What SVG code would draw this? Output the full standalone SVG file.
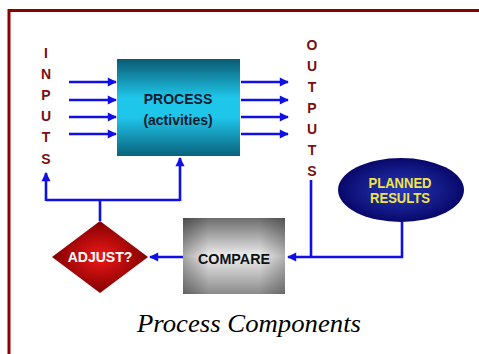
<svg xmlns="http://www.w3.org/2000/svg" width="479" height="354" viewBox="0 0 479 354">
<defs>
<linearGradient id="gProc" x1="0" y1="0" x2="0" y2="1">
<stop offset="0" stop-color="#0a5a72"/>
<stop offset="0.4" stop-color="#1ec6ea"/>
<stop offset="0.6" stop-color="#1ec6ea"/>
<stop offset="1" stop-color="#0a627c"/>
</linearGradient>
<linearGradient id="gCmp" x1="0" y1="0" x2="0" y2="1">
<stop offset="0" stop-color="#6c6c6c"/>
<stop offset="0.5" stop-color="#eeeeee"/>
<stop offset="1" stop-color="#8a8a8a"/>
</linearGradient>
<linearGradient id="gCmpH" x1="0" y1="0" x2="1" y2="0">
<stop offset="0" stop-color="#000000" stop-opacity="0.3"/>
<stop offset="0.25" stop-color="#000000" stop-opacity="0"/>
<stop offset="0.75" stop-color="#000000" stop-opacity="0"/>
<stop offset="1" stop-color="#000000" stop-opacity="0.25"/>
</linearGradient>
<radialGradient id="gAdj" cx="0.5" cy="0.5" r="0.5">
<stop offset="0" stop-color="#f01818"/>
<stop offset="1" stop-color="#820000"/>
</radialGradient>
<radialGradient id="gPlan" cx="0.5" cy="0.5" r="0.5">
<stop offset="0" stop-color="#2838b8"/>
<stop offset="1" stop-color="#08086a"/>
</radialGradient>
<marker id="ah" viewBox="0 0 10 10" refX="9" refY="5" markerWidth="4.2" markerHeight="3.5" markerUnits="strokeWidth" orient="auto">
<path d="M0,0 L10,5 L0,10 z" fill="#1010e6"/>
</marker>
</defs>
<style>
.ln{fill:none;stroke:#1010e6;stroke-width:2.6}
.arr{fill:none;stroke:#1010e6;stroke-width:2.6;marker-end:url(#ah)}
.vert{font-family:"Liberation Sans",Arial,sans-serif;font-weight:bold;font-size:14px;fill:#7a1010;text-anchor:middle}
.lbl{font-family:"Liberation Sans",Arial,sans-serif;font-weight:bold;font-size:14px;text-anchor:middle}
</style>
<rect x="0" y="0" width="479" height="354" fill="#ffffff"/>
<path d="M9,360 V10.5 H485" fill="none" stroke="#8b0000" stroke-width="3"/>

<g id="inputs">
<text class="vert" x="46" y="58">I</text>
<text class="vert" x="46" y="79">N</text>
<text class="vert" x="46" y="100">P</text>
<text class="vert" x="46" y="121">U</text>
<text class="vert" x="46" y="142">T</text>
<text class="vert" x="46" y="164">S</text>
</g>
<g id="outputs">
<text class="vert" x="312" y="50">O</text>
<text class="vert" x="312" y="71">U</text>
<text class="vert" x="312" y="92">T</text>
<text class="vert" x="312" y="113">P</text>
<text class="vert" x="312" y="134">U</text>
<text class="vert" x="312" y="155">T</text>
<text class="vert" x="312" y="176">S</text>
</g>

<g id="process">
<rect x="117" y="59" width="123" height="97" fill="url(#gProc)"/>
<text class="lbl" x="178" y="104" fill="#0c1a2e">PROCESS</text>
<text class="lbl" x="178" y="125" fill="#0c1a2e">(activities)</text>
</g>

<g id="planned">
<ellipse cx="401" cy="190" rx="63" ry="32" fill="url(#gPlan)"/>
<text class="lbl" x="400" y="188" fill="#f0e448" textLength="63" lengthAdjust="spacingAndGlyphs">PLANNED</text>
<text class="lbl" x="400" y="203" fill="#f0e448" textLength="60" lengthAdjust="spacingAndGlyphs">RESULTS</text>
</g>

<g id="compare">
<rect x="183" y="218" width="102" height="76" fill="url(#gCmp)"/>
<rect x="183" y="218" width="102" height="76" fill="url(#gCmpH)"/>
<text class="lbl" x="234" y="264" fill="#111111" textLength="72" lengthAdjust="spacingAndGlyphs" style="font-size:15px">COMPARE</text>
</g>

<g id="adjust">
<polygon points="100,221 148,257 100,293 52,257" fill="url(#gAdj)"/>
<text class="lbl" x="100" y="262" fill="#ffffff">ADJUST?</text>
</g>

<g id="connectors">
<line class="arr" x1="69" y1="82" x2="116" y2="82"/>
<line class="arr" x1="69" y1="100" x2="116" y2="100"/>
<line class="arr" x1="69" y1="117" x2="116" y2="117"/>
<line class="arr" x1="69" y1="134" x2="116" y2="134"/>
<line class="arr" x1="241" y1="82" x2="288" y2="82"/>
<line class="arr" x1="241" y1="100" x2="288" y2="100"/>
<line class="arr" x1="241" y1="117" x2="288" y2="117"/>
<line class="arr" x1="241" y1="134" x2="288" y2="134"/>
<path class="ln" d="M46,200 H180"/>
<line class="arr" x1="46" y1="201" x2="46" y2="173"/>
<line class="arr" x1="180" y1="201" x2="180" y2="158"/>
<line class="ln" x1="100" y1="199" x2="100" y2="221"/>
<line class="arr" x1="183" y1="257" x2="150" y2="257"/>
<path class="ln" d="M311,180 V257"/>
<path class="arr" d="M402,222 V257 H288"/>
</g>

<text x="249" y="332" font-family="'Liberation Serif','Times New Roman',serif" font-style="italic" font-size="25.5" fill="#000000" text-anchor="middle" textLength="224" lengthAdjust="spacingAndGlyphs">Process Components</text>
</svg>
